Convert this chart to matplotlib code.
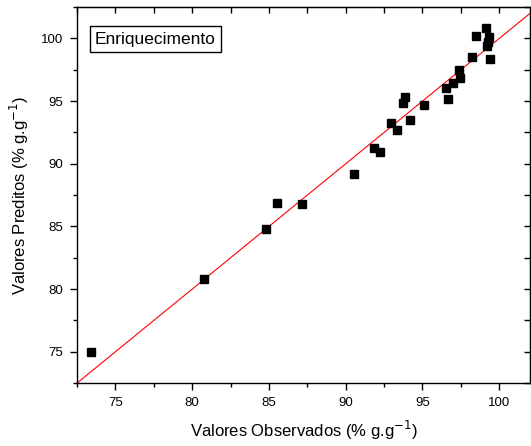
import numpy as np
import matplotlib
matplotlib.use("Agg")
import matplotlib.pyplot as plt
from matplotlib.ticker import MultipleLocator

plt.rcParams['font.family'] = ['Liberation Sans', 'DejaVu Sans']

# Valores observados x preditos (% g.g-1)
observados = [73.44, 80.79, 84.83, 85.55, 87.17, 90.56, 91.86, 92.25, 92.97,
              93.36, 93.75, 93.88, 94.21, 95.12, 96.55, 96.68, 97.00, 97.40,
              97.46, 98.24, 98.50, 99.17, 99.36, 99.30, 99.23, 99.40]
preditos = [74.98, 80.84, 84.82, 86.89, 86.81, 89.20, 91.27, 90.95, 93.26,
            92.70, 94.85, 95.33, 93.49, 94.68, 96.04, 95.17, 96.44, 97.48,
            96.84, 98.51, 100.18, 100.81, 100.10, 99.70, 99.40, 98.40]

x_min, x_max = 72.5, 102.0
y_min, y_max = 72.5, 102.5

fig = plt.figure(figsize=(5.31, 4.46), dpi=100)
ax = fig.add_axes([0.145, 0.141, 0.853, 0.843])

# linha 1:1
linha = np.array([70.0, 105.0])
ax.plot(linha, linha, color='red', lw=0.8, zorder=1)

ax.plot(observados, preditos, 's', color='black', markersize=6.2, zorder=3)

ax.set_xlim(x_min, x_max)
ax.set_ylim(y_min, y_max)

ax.xaxis.set_major_locator(MultipleLocator(5))
ax.xaxis.set_minor_locator(MultipleLocator(2.5))
ax.yaxis.set_major_locator(MultipleLocator(5))
ax.yaxis.set_minor_locator(MultipleLocator(2.5))

ax.tick_params(which='both', direction='out', top=False, right=False,
               labelsize=9.5, width=1, color='black')
ax.tick_params(which='major', length=5, pad=5)
ax.tick_params(which='minor', length=3)

# ticks espelhados (topo e direita) para dentro
ax_top = ax.secondary_xaxis('top')
ax_top.xaxis.set_major_locator(MultipleLocator(2.5))
ax_top.tick_params(direction='in', length=4, width=1, labeltop=False)
ax_dir = ax.secondary_yaxis('right')
ax_dir.yaxis.set_major_locator(MultipleLocator(2.5))
ax_dir.tick_params(direction='in', length=4, width=1, labelright=False)

for s in ax.spines.values():
    s.set_linewidth(1)

ax.set_xlabel('Valores Observados (% g.g$^{-1}$)', fontsize=12, labelpad=7)
ax.set_ylabel('Valores Preditos (% g.g$^{-1}$)', fontsize=12, labelpad=7)

ax.text(0.040, 0.935, 'Enriquecimento', transform=ax.transAxes, fontsize=12.5,
        ha='left', va='top',
        bbox=dict(boxstyle='square,pad=0.3', facecolor='white',
                  edgecolor='black', linewidth=1))

fig.savefig('out.png', dpi=100)
